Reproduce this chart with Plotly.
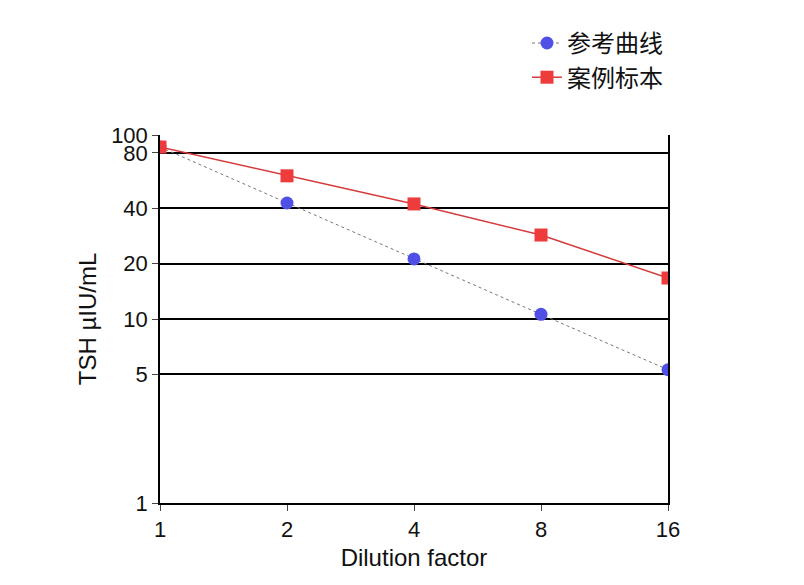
import plotly.graph_objects as go

dilution = [1, 2, 4, 8, 16]
ref_curve = [86, 42.7, 21.2, 10.6, 5.3]
case_sample = [86, 60, 42.2, 28.6, 16.7]
y_ticks = [1, 5, 10, 20, 40, 80, 100]

fig = go.Figure()
fig.add_trace(go.Scatter(x=dilution, y=ref_curve, name="参考曲线", mode="lines+markers",
    line=dict(color="#777777", width=1, dash="dot"),
    marker=dict(color="#5050e6", size=13, symbol="circle")))
fig.add_trace(go.Scatter(x=dilution, y=case_sample, name="案例标本", mode="lines+markers",
    line=dict(color="#d63a3a", width=1.5),
    marker=dict(color="#ee3b3b", size=13, symbol="square")))

fig.update_layout(
    width=804, height=585, plot_bgcolor="white", paper_bgcolor="white",
    margin=dict(l=152, r=144, t=127, b=90, autoexpand=False),
    font=dict(family="Liberation Sans, Noto Sans CJK SC", size=22, color="#111"),
    legend=dict(x=1.0, y=1.31, xanchor="right", yanchor="top", font=dict(size=24, family="Noto Sans CJK SC"),
                bgcolor="rgba(0,0,0,0)"),
    xaxis=dict(type="log", range=[0, 1.2041], tickvals=dilution, ticktext=[str(v) for v in dilution],
               showline=True, linecolor="black", linewidth=1.5, ticks="outside", ticklen=6,
               showgrid=False, zeroline=False,
               title=dict(text="Dilution factor", font=dict(size=24), standoff=8)),
    yaxis=dict(type="log", range=[0, 2], tickvals=y_ticks, ticktext=[str(v) for v in y_ticks],
               showline=True, linecolor="black", linewidth=1.5, mirror=True, ticks="outside", ticklen=6,
               showgrid=True, gridcolor="black", gridwidth=1.5, zeroline=False,
               title=dict(text="TSH µIU/mL", font=dict(size=24), standoff=8)),
)
fig.write_html("out.html")
